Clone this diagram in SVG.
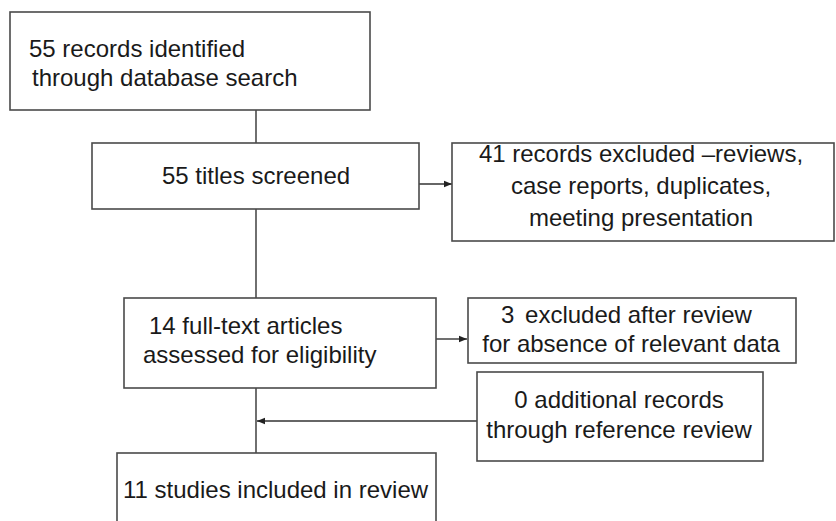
<svg xmlns="http://www.w3.org/2000/svg" width="836" height="521" viewBox="0 0 836 521">
<style>
.box{fill:#fff;stroke:#4a4a4a;stroke-width:1.6}
.t{font-family:"Liberation Sans",Arial,sans-serif;font-size:24px;fill:#1a1a1a}
.c{text-anchor:middle}
.ln{stroke:#333;stroke-width:1.4;fill:none}
</style>
<defs>
<marker id="ah" viewBox="0 0 10 10" refX="10" refY="5" markerWidth="8" markerHeight="8" markerUnits="userSpaceOnUse" orient="auto">
<path d="M0,1 L10,5 L0,9 z" fill="#222"/>
</marker>
</defs>
<rect width="836" height="521" fill="#fff"/>
<g id="connectors">
<line class="ln" x1="256" y1="110" x2="256" y2="143"/>
<line class="ln" x1="256" y1="209" x2="256" y2="298"/>
<line class="ln" x1="256" y1="388" x2="256" y2="453"/>
<line class="ln" x1="419" y1="184" x2="452" y2="184" marker-end="url(#ah)"/>
<line class="ln" x1="436" y1="339" x2="467" y2="339" marker-end="url(#ah)"/>
<line class="ln" x1="477" y1="421" x2="257" y2="421" marker-end="url(#ah)"/>
</g>
<g id="n1">
<rect class="box" x="10" y="12" width="360" height="98"/>
<text class="t" x="29" y="57">55 records identified</text>
<text class="t" x="32" y="86">through database search</text>
</g>
<g id="n2">
<rect class="box" x="92" y="143" width="327" height="66"/>
<text class="t" x="162" y="184">55 titles screened</text>
</g>
<g id="n3">
<rect class="box" x="452" y="143" width="382" height="98"/>
<text class="t c" x="641" y="162">41 records excluded –reviews,</text>
<text class="t c" x="641" y="194">case reports, duplicates,</text>
<text class="t c" x="641" y="226">meeting presentation</text>
</g>
<g id="n4">
<rect class="box" x="124" y="298" width="312" height="90"/>
<text class="t" x="149" y="334">14 full-text articles</text>
<text class="t" x="143" y="363">assessed for eligibility</text>
</g>
<g id="n5">
<rect class="box" x="468" y="298" width="328" height="65"/>
<text class="t" x="501" y="323">3<tspan dx="4"> excluded after review</tspan></text>
<text class="t c" x="631" y="352">for absence of relevant data</text>
</g>
<g id="n6">
<rect class="box" x="477" y="372" width="286" height="89"/>
<text class="t c" x="619" y="408">0 additional records</text>
<text class="t c" x="619" y="438">through reference review</text>
</g>
<g id="n7">
<rect class="box" x="117" y="453" width="319" height="80"/>
<text class="t" x="123" y="498">11 studies included in review</text>
</g>
</svg>
